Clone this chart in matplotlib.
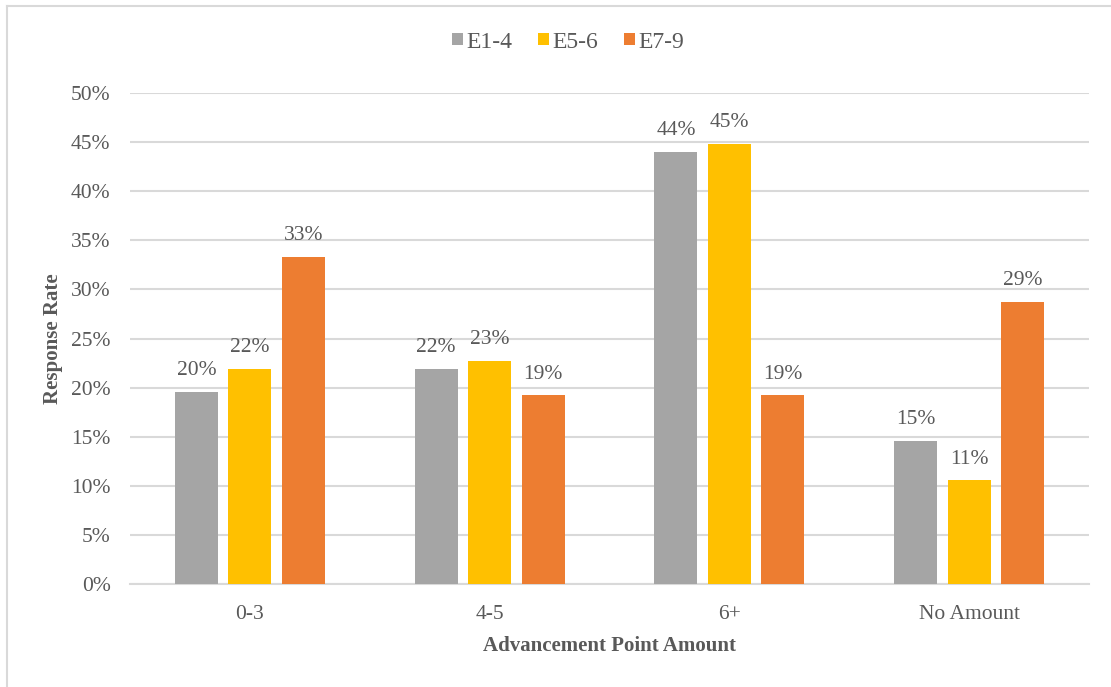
import matplotlib
matplotlib.use("Agg")
import matplotlib.pyplot as plt
import numpy as np
from matplotlib.patches import Patch
from matplotlib.lines import Line2D
from matplotlib.ticker import FuncFormatter, MultipleLocator

categories = ["0-3", "4-5", "6+", "No Amount"]
series_names = ["E1-4", "E5-6", "E7-9"]
e1_4 = [19.55, 21.9, 44.0, 14.6]
e5_6 = [21.9, 22.7, 44.85, 10.55]
e7_9 = [33.3, 19.2, 19.2, 28.7]
colors = ["#A5A5A5", "#FFC000", "#ED7D31"]

plt.rcParams["font.family"] = ["Liberation Serif", "DejaVu Serif"]
text_color = "#595959"
grid_color = "#D9D9D9"

W, H = 1111, 687
fig = plt.figure(figsize=(W / 100, H / 100), dpi=100)
fig.patch.set_facecolor("white")

ax = fig.add_axes([130 / W, 1 - 584 / H, (1089 - 130) / W, (584 - 93) / H])

x = np.arange(len(categories))
width = 0.179
step = 0.223
for i, (vals, col) in enumerate(zip([e1_4, e5_6, e7_9], colors)):
    pos = x + (i - 1) * step
    bars = ax.bar(pos, vals, width=width, color=col, zorder=3, label=series_names[i])
    for b, v in zip(bars, vals):
        ax.annotate(f"{v:.0f}%", (b.get_x() + b.get_width() / 2, v),
                    xytext=(0, 8.5), textcoords="offset points",
                    ha="center", va="bottom", fontsize=15.5, color=text_color)

ax.set_xlim(-0.5, len(categories) - 0.5)
ax.set_ylim(0, 50)
ax.yaxis.set_major_locator(MultipleLocator(5))
ax.yaxis.set_major_formatter(FuncFormatter(lambda v, p: f"{v:.0f}%"))
ax.set_xticks(x)
ax.set_xticklabels(categories)
ax.grid(axis="y", color=grid_color, linewidth=1.5, zorder=0)
ax.set_axisbelow(True)
for s in ["top", "right", "left"]:
    ax.spines[s].set_visible(False)
ax.spines["bottom"].set_color(grid_color)
ax.spines["bottom"].set_linewidth(1.5)
ax.tick_params(axis="both", length=0, labelsize=15.5, colors=text_color)
ax.tick_params(axis="y", pad=14)
ax.tick_params(axis="x", pad=15)

ax.set_xlabel("Advancement Point Amount", fontsize=15, fontweight="bold",
              color=text_color, labelpad=9)
ax.set_ylabel("Response Rate", fontsize=15, fontweight="bold",
              color=text_color, labelpad=5.5)

handles = [Patch(facecolor=c, edgecolor="none") for c in colors]
fig.legend(handles, series_names, loc="center", bbox_to_anchor=(568 / W, 1 - 42 / H),
           ncol=3, frameon=False, fontsize=17, labelcolor=text_color,
           handlelength=0.45, handleheight=0.4, handletextpad=0.15,
           columnspacing=1.1)

# light frame along the top and left edges
fig.add_artist(Line2D([7 / W, 7 / W], [0, 1 - 6 / H], color=grid_color,
                      linewidth=1.5, transform=fig.transFigure))
fig.add_artist(Line2D([7 / W, 1], [1 - 6 / H, 1 - 6 / H], color=grid_color,
                      linewidth=1.5, transform=fig.transFigure))

fig.savefig("out.png", dpi=100)
